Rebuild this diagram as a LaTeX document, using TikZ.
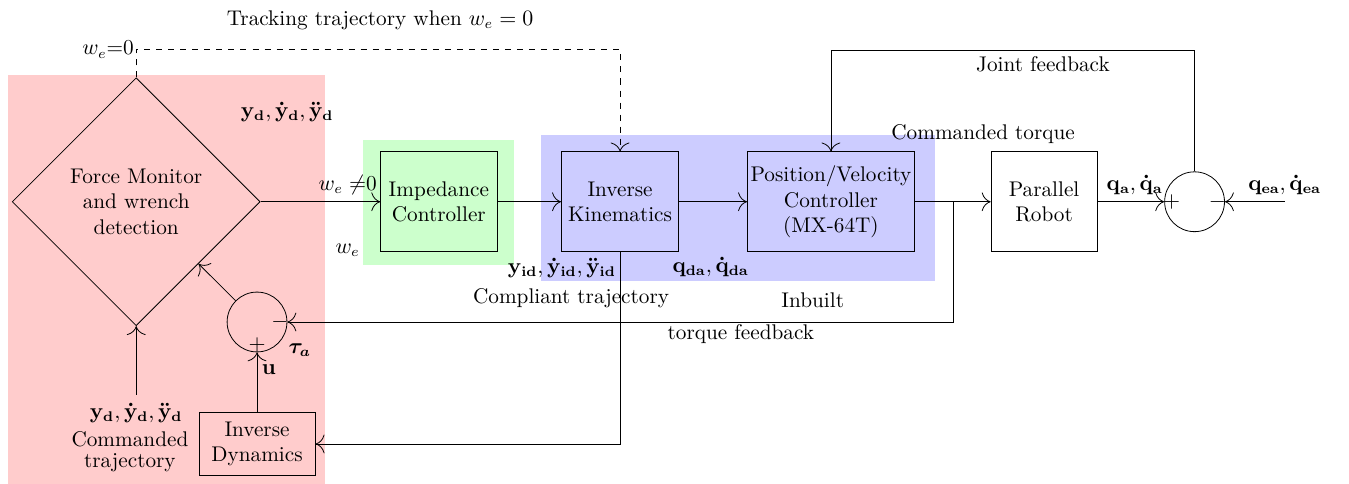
\documentclass[tikz,border=0pt]{standalone}
\usepackage{amsmath,amssymb}
\usepackage{tikz}
\usetikzlibrary{shapes,arrows,arrows.meta,positioning}

\begin{document}
\begin{tikzpicture}[
  >={To[scale=1.8]},
  font=\fontsize{10.6}{12.7}\selectfont,
  block/.style={draw, rectangle, minimum width=2.04cm, minimum height=1.75cm, align=center},
  sum/.style={draw, circle, minimum size=1.05cm, inner sep=0pt},
  decide/.style={draw, diamond, minimum width=4.35cm, minimum height=4.35cm, align=center, inner sep=0pt}]
\useasboundingbox (0,0) rectangle (23.67,8.49);
% Background zones
\fill[red!20] (0.14,0) rectangle (5.70,7.18);
\fill[green!20] (6.37,3.84) rectangle (9.02,6.04);
\fill[blue!20] (9.49,3.56) rectangle (16.40,6.12);
% Blocks
\node[decide] (fm) at (2.39,4.95) {Force Monitor\\and wrench\\detection};
\node[block] (imp) at (7.70,4.95) {Impedance\\Controller};
\node[block] (ik) at (10.88,4.95) {Inverse\\Kinematics};
\node[block, minimum width=2.93cm, inner xsep=0pt] (pv) at (14.58,4.95) {Position/Velocity\\Controller\\(MX-64T)};
\node[block, minimum width=1.86cm] (robot) at (18.32,4.95) {Parallel\\Robot};
\node[sum] (sumR) at (20.96,4.95) {};
\node[sum] (sumL) at (4.51,2.84) {};
\node[block, minimum height=1.1cm] (invdyn) at (4.51,0.70) {Inverse\\Dynamics};
% Signs
\node at ([xshift=-0.40cm]sumR.center) {$+$};
\node at ([xshift=0.40cm]sumR.center) {$-$};
\node at ([yshift=-0.40cm]sumL.center) {$+$};
\node at ([xshift=0.40cm]sumL.center) {$-$};
% Free ends
\coordinate (cmd) at (2.39,1.56);
\coordinate (qea) at (22.54,4.95);
\coordinate (br) at (16.72,4.95);
\coordinate (jtop) at (20.96,7.61);
% Forward path
\draw[->] (cmd) -- (fm.south);
\draw[->] (fm.east) -- (imp.west);
\draw[->] (imp.east) -- (ik.west);
\draw[->] (ik.east) -- (pv.west);
\draw[->] (pv.east) -- (robot.west);
\draw[->] (robot.east) -- (sumR.west);
\draw[->] (qea) -- (sumR.east);
% Tracking when w_e = 0
\draw[dashed,->] (fm.north) -- ++(0,0.49) coordinate (wz) -| (ik.north);
% Feedback loops
\draw[->] (sumR.north) -- (jtop) -| (pv.north);
\draw[->] (br) |- (sumL.east);
\draw[->] (ik.south) |- (invdyn.east);
\draw[->] (invdyn.north) -- (sumL.south);
\draw[->] (sumL) -- (fm);
% Labels
\node at (6.67,8.14) {Tracking trajectory when $w_e = 0$};
\node[left, inner sep=1pt] at (wz) {$w_e$=0};
\node at (5.04,6.53) {$\mathbf{y_d,\dot{y}_d,\ddot{y}_d}$};
\node at (6.10,5.25) {$w_e \neq$0};
\node at (6.10,4.10) {$w_e$};
\node at (2.39,1.25) {$\mathbf{y_d,\dot{y}_d,\ddot{y}_d}$};
\node[align=center] at (2.28,0.56) {Commanded\\[-2pt]trajectory};
\node at (4.72,2.00) {$\mathbf{u}$};
\node at (5.26,2.35) {$\boldsymbol{\tau_a}$};
\node at (9.86,3.79) {$\mathbf{y_{id},\dot{y}_{id},\ddot{y}_{id}}$};
\node at (10.02,3.26) {Compliant trajectory};
\node at (12.47,3.81) {$\mathbf{q_{da},\dot{q}_{da}}$};
\node at (14.26,3.23) {Inbuilt};
\node at (13.00,2.63) {torque feedback};
\node at (17.25,6.14) {Commanded torque};
\node at (18.30,7.37) {Joint feedback};
\node at (19.91,5.25) {$\mathbf{q_a,\dot{q}_a}$};
\node at (22.54,5.25) {$\mathbf{q_{ea},\dot{q}_{ea}}$};
\end{tikzpicture}
\end{document}
